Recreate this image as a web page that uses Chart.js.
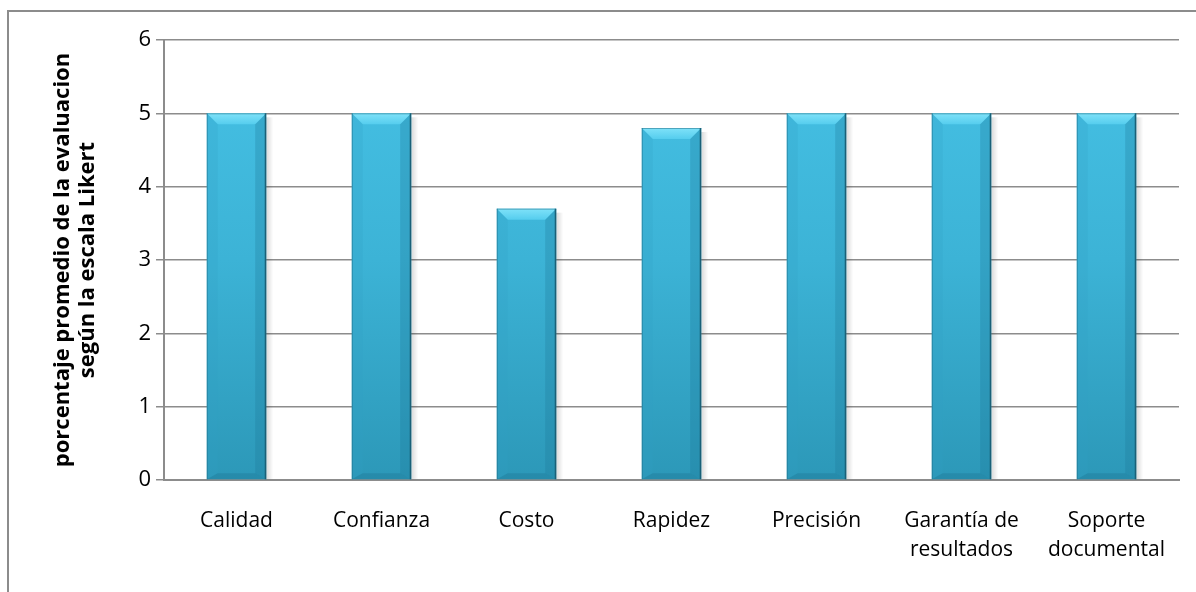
<!DOCTYPE html>
<html>
<head>
    <meta charset="utf-8">
    <style>
        body { margin: 0; background: white; overflow: hidden; }
        #marco {
            position: absolute; left: 7px; top: 10px;
            width: 1230px; height: 620px;
            border: 2px solid #8c8c8c;
        }
        #grafico { position: absolute; left: 0; top: 0; }
    </style>
    <script src="https://cdn.jsdelivr.net/npm/chart.js"></script>
</head>
<body>
    <div id="marco"></div>
    <canvas id="grafico" width="1196" height="592"></canvas>
    <script>
        const categorias = ["Calidad", "Confianza", "Costo", "Rapidez", "Precisión", ["Garantía de", "resultados"], ["Soporte", "documental"]];
        const promedios = [5, 5, 3.7, 4.8, 5, 5, 5];
        const tituloEjeY = ["porcentaje promedio de la evaluacion", "según la escala Likert"];

        const fuente = "'Open Sans', sans-serif";

        // relieve de cada barra: franja clara arriba, bordes laterales y sombra
        const relieve = {
            id: "relieve",
            afterDatasetsDraw(chart) {
                const ctx = chart.ctx;
                chart.getDatasetMeta(0).data.forEach(bar => {
                    const l = bar.x - bar.width / 2, r = bar.x + bar.width / 2;
                    const t = bar.y, b = bar.base;
                    const bev = 11;
                    ctx.save();
                    // sombra a la derecha
                    const sg = ctx.createLinearGradient(r, 0, r + 7, 0);
                    sg.addColorStop(0, "rgba(0,0,0,0.15)");
                    sg.addColorStop(1, "rgba(0,0,0,0)");
                    ctx.fillStyle = sg;
                    ctx.fillRect(r, t + 4, 7, b - t - 4);
                    // franja superior
                    const tg = ctx.createLinearGradient(0, t, 0, t + bev);
                    tg.addColorStop(0, "#7fe2f9");
                    tg.addColorStop(1, "#55cdee");
                    ctx.fillStyle = tg;
                    ctx.beginPath();
                    ctx.moveTo(l, t); ctx.lineTo(r, t);
                    ctx.lineTo(r - bev, t + bev); ctx.lineTo(l + bev, t + bev);
                    ctx.closePath(); ctx.fill();
                    // lado izquierdo
                    ctx.fillStyle = "rgba(50,160,195,0.22)";
                    ctx.beginPath();
                    ctx.moveTo(l, t); ctx.lineTo(l + bev, t + bev);
                    ctx.lineTo(l + bev, b - 6); ctx.lineTo(l, b);
                    ctx.closePath(); ctx.fill();
                    // lado derecho
                    ctx.fillStyle = "rgba(30,120,150,0.28)";
                    ctx.beginPath();
                    ctx.moveTo(r, t); ctx.lineTo(r - bev, t + bev);
                    ctx.lineTo(r - bev, b - 6); ctx.lineTo(r, b);
                    ctx.closePath(); ctx.fill();
                    // base
                    ctx.fillStyle = "rgba(25,110,140,0.3)";
                    ctx.beginPath();
                    ctx.moveTo(l, b); ctx.lineTo(l + bev, b - 6);
                    ctx.lineTo(r - bev, b - 6); ctx.lineTo(r, b);
                    ctx.closePath(); ctx.fill();
                    // borde oscuro
                    ctx.strokeStyle = "#1a6077";
                    ctx.lineWidth = 1.5;
                    ctx.beginPath();
                    ctx.moveTo(r - 0.75, t); ctx.lineTo(r - 0.75, b);
                    ctx.stroke();
                    ctx.strokeStyle = "rgba(28,106,130,0.5)";
                    ctx.lineWidth = 1;
                    ctx.beginPath();
                    ctx.moveTo(l, t + 0.5); ctx.lineTo(r, t + 0.5);
                    ctx.moveTo(l + 0.5, t); ctx.lineTo(l + 0.5, b);
                    ctx.stroke();
                    ctx.restore();
                });
            }
        };

        const ctx = document.getElementById("grafico").getContext("2d");

        new Chart(ctx, {
            type: "bar",
            data: {
                labels: categorias,
                datasets: [{
                    data: promedios,
                    backgroundColor: (c) => {
                        const area = c.chart.chartArea;
                        if (!area) return "#3bb3d6";
                        const g = c.chart.ctx.createLinearGradient(0, area.top, 0, area.bottom);
                        g.addColorStop(0, "#46c2e6");
                        g.addColorStop(0.5, "#3cb3d6");
                        g.addColorStop(1, "#2c98b8");
                        return g;
                    },
                    borderWidth: 0,
                    barPercentage: 0.41,
                    categoryPercentage: 1
                }]
            },
            options: {
                responsive: false,
                animation: false,
                layout: { padding: { left: 10, right: 17, top: 40, bottom: 0 } },
                plugins: {
                    legend: { display: false },
                    tooltip: { enabled: false }
                },
                scales: {
                    x: {
                        grid: { display: false },
                        border: { display: true, color: "#8c8c8c", width: 2 },
                        ticks: {
                            color: "#000",
                            padding: 19,
                            maxRotation: 0,
                            autoSkip: false,
                            font: { family: fuente, size: 21, lineHeight: 1.35 }
                        },
                        afterFit: (s) => { s.height = 112; }
                    },
                    y: {
                        min: 0,
                        max: 6,
                        ticks: {
                            stepSize: 1,
                            color: "#000",
                            padding: 5,
                            font: { family: fuente, size: 22 }
                        },
                        grid: { color: "#8c8c8c", lineWidth: 1.5, tickLength: 8 },
                        border: { display: true, color: "#8c8c8c", width: 2 },
                        title: {
                            display: true,
                            text: tituloEjeY,
                            color: "#000",
                            padding: { top: 40, bottom: 0 },
                            font: { family: fuente, size: 22, weight: "bold", lineHeight: 1.15 }
                        },
                        afterFit: (s) => { s.width = 154; }
                    }
                }
            },
            plugins: [relieve]
        });
    </script>
</body>
</html>
